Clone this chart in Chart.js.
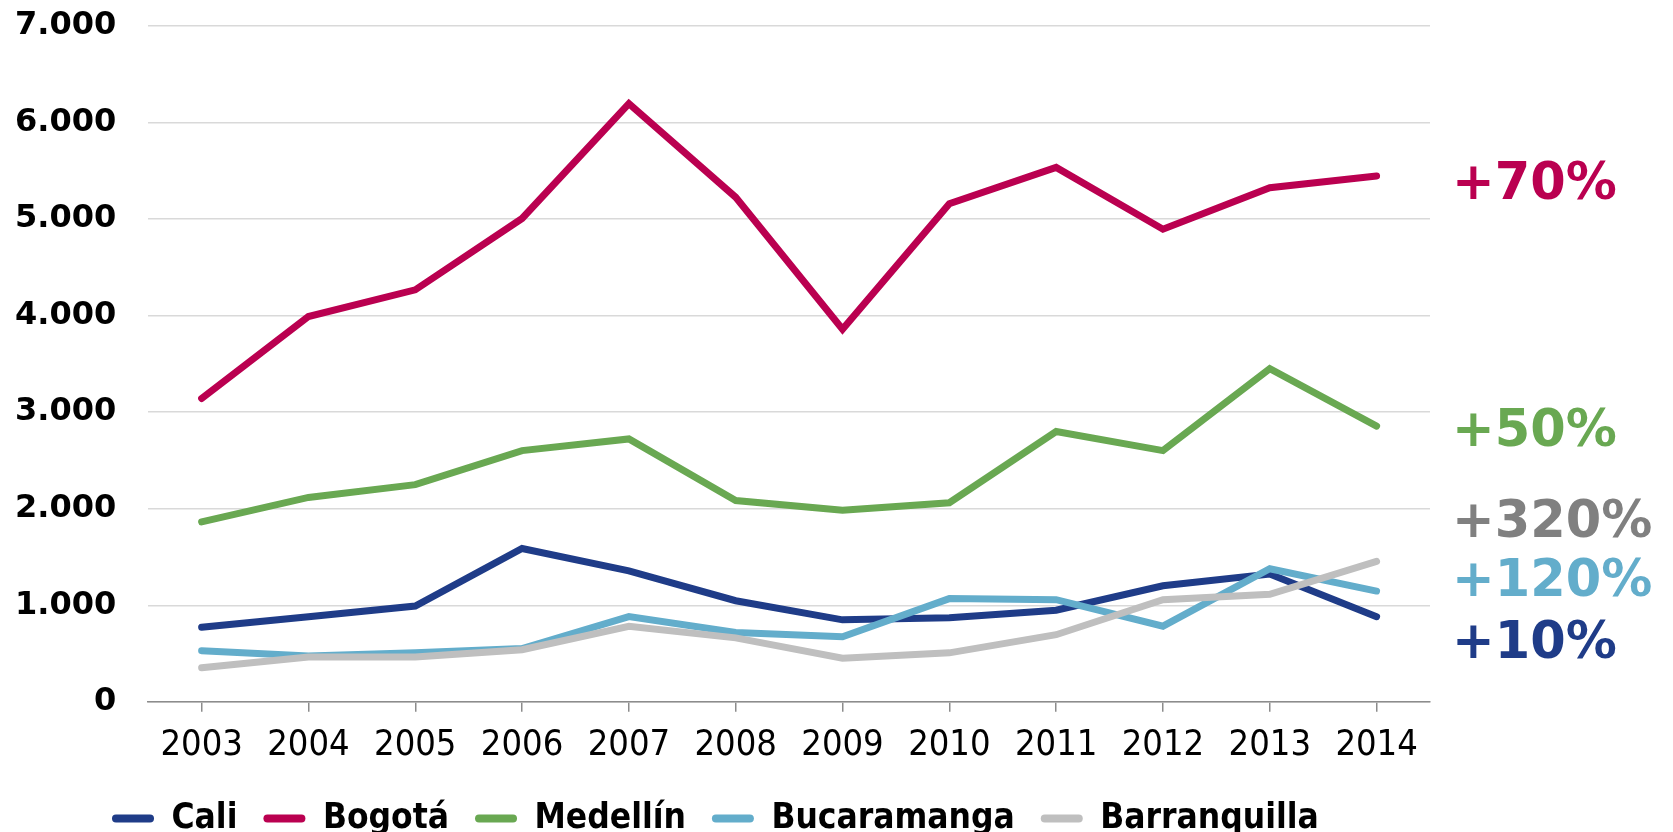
<!DOCTYPE html>
<html>
<head>
<meta charset="utf-8">
<script src="https://cdn.jsdelivr.net/npm/chart.js@4/dist/chart.umd.min.js"></script>
<style>
  html, body { margin: 0; padding: 0; background: #fff; }
  #wrap { width: 1673px; height: 832px; position: relative; }
</style>
</head>
<body>
<div id="wrap"><canvas id="chart"></canvas></div>
<script>
const years = ["2003", "2004", "2005", "2006", "2007", "2008", "2009", "2010", "2011", "2012", "2013", "2014"];

const cali         = [772, 882, 992, 1588, 1356, 1047, 849, 871, 948, 1202, 1323, 882];
const bogota       = [3142, 3991, 4267, 5006, 6196, 5226, 3859, 5160, 5535, 4895, 5325, 5447];
const medellin     = [1863, 2117, 2249, 2602, 2723, 2084, 1985, 2062, 2800, 2602, 3451, 2856];
const bucaramanga  = [529, 474, 507, 551, 882, 717, 673, 1069, 1058, 783, 1378, 1147];
const barranquilla = [353, 463, 463, 540, 783, 662, 452, 507, 695, 1058, 1114, 1455];

const cityNames  = ["Cali", "Bogotá", "Medellín", "Bucaramanga", "Barranquilla"];
const cityColors = ["#1f3c88", "#ba0050", "#69a852", "#63adcb", "#bfbfbf"];

// growth labels on the right, with the value they sit next to
const growthText   = ["+70%", "+50%", "+320%", "+120%", "+10%"];
const growthColors = ["#ba0050", "#69a852", "#808080", "#63adcb", "#1f3c88"];
const growthAt     = [5350, 2790, 1845, 1230, 590];

const fmt = v => String(v).replace(/\B(?=(\d{3})+(?!\d))/g, ".");

// draws the +xx% texts to the right of the plot
const growthPlugin = {
    id: "growth",
    afterDraw(chart) {
        const ctx = chart.ctx;
        const y = chart.scales.y;
        ctx.save();
        ctx.font = "bold 51px 'DejaVu Sans'";
        ctx.textAlign = "left";
        ctx.textBaseline = "middle";
        growthText.forEach((t, i) => {
            ctx.fillStyle = growthColors[i];
            ctx.fillText(t, chart.chartArea.right + 22, y.getPixelForValue(growthAt[i]));
        });
        ctx.restore();
    }
};

// legend in the reference is not centred, move it a bit
const legendShift = {
    id: "legendShift",
    afterLayout(chart) {
        const lg = chart.legend;
        const w = lg.right - lg.left;
        const h = lg.bottom - lg.top;
        lg.left = 86;
        lg.right = lg.left + w;
        lg.top = 775;
        lg.bottom = lg.top + h;
    }
};

const series = [cali, bogota, medellin, bucaramanga, barranquilla];

new Chart(document.getElementById("chart"), {
    type: "line",
    data: {
        labels: years,
        datasets: series.map((vals, i) => ({
            label: cityNames[i],
            data: vals,
            borderColor: cityColors[i],
            backgroundColor: cityColors[i],
            borderWidth: 7,
            borderCapStyle: "round",
            pointRadius: 0,
            tension: 0,
            order: series.length - i
        }))
    },
    options: {
        responsive: true,
        maintainAspectRatio: false,
        animation: false,
        layout: { padding: { left: -17, right: 243, top: 0, bottom: -18 } },
        plugins: {
            tooltip: { enabled: false },
            legend: {
                position: "bottom",
                align: "start",
                labels: {
                    color: "#000",
                    font: { family: "'DejaVu Sans Condensed', 'DejaVu Sans'", size: 35, weight: "bold" },
                    boxWidth: 42,
                    boxHeight: 8,
                    padding: 26,
                    useBorderRadius: true,
                    borderRadius: 4,
                    generateLabels: chart => chart.data.datasets.map((ds, i) => ({
                        text: ds.label,
                        fillStyle: ds.borderColor,
                        strokeStyle: ds.borderColor,
                        lineWidth: 0,
                        borderRadius: 4,
                        fontColor: "#000",
                        hidden: false,
                        datasetIndex: i
                    }))
                }
            }
        },
        scales: {
            x: {
                offset: true,
                grid: { display: true, drawOnChartArea: false, drawTicks: true, tickLength: 10, color: "#8c8c8c", lineWidth: 1.5 },
                border: { display: true, color: "#8c8c8c", width: 1.5 },
                ticks: {
                    color: "#000",
                    padding: 12,
                    maxRotation: 0,
                    font: { family: "'DejaVu Sans Condensed', 'DejaVu Sans'", size: 36 }
                }
            },
            y: {
                min: 0,
                max: 7000,
                grid: { color: "#d9d9d9", lineWidth: 1.5, drawTicks: false },
                border: { display: false },
                ticks: {
                    stepSize: 1000,
                    padding: 32,
                    color: "#000",
                    font: { family: "'DejaVu Sans'", size: 32, weight: "bold" },
                    callback: v => fmt(v)
                },
                // the tick padding also pads the top, use a fixed top gap instead
                afterFit: s => { s.paddingTop = 26; s.paddingBottom = 19; }
            }
        }
    },
    plugins: [growthPlugin, legendShift]
});
</script>
</body>
</html>
